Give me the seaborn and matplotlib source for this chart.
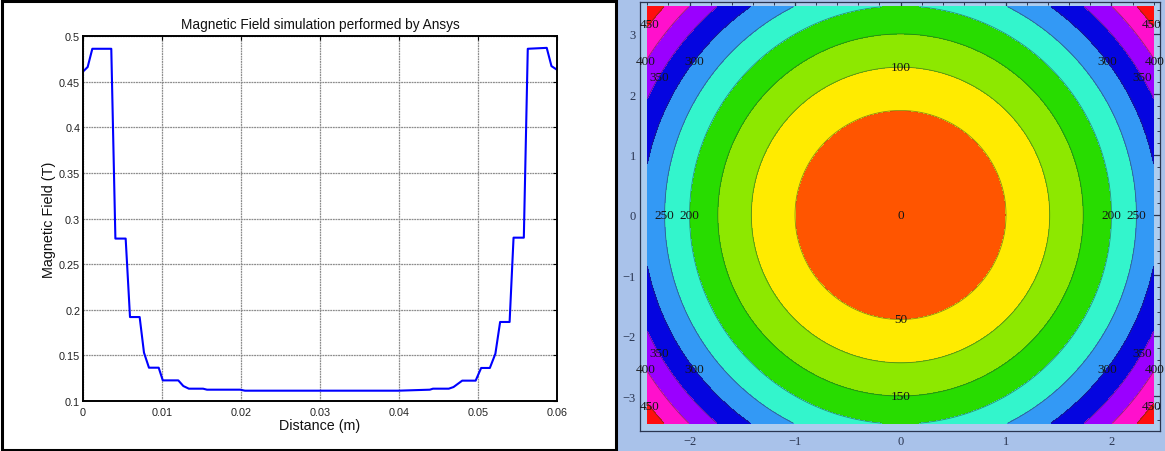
import numpy as np
import pandas as pd
import matplotlib
matplotlib.use("Agg")
import matplotlib.pyplot as plt
from matplotlib.patches import Rectangle
import seaborn as sns

# ---------------- data: left panel (Ansys line) ----------------
distance_m = [0.0, 0.00059, 0.00118, 0.00358, 0.0041, 0.0054, 0.00595, 0.00717,
              0.00772, 0.00835, 0.00958, 0.0101, 0.01206, 0.0127, 0.0134, 0.0152,
              0.0157, 0.0199, 0.0205, 0.0399, 0.0439, 0.0443, 0.0463, 0.0469,
              0.048, 0.0497, 0.0504, 0.0515, 0.0522, 0.0528, 0.054, 0.0545,
              0.0558, 0.0563, 0.0587, 0.0593, 0.06]
field_T = [0.461, 0.466, 0.486, 0.486, 0.278, 0.278, 0.192, 0.192,
           0.153, 0.1365, 0.1365, 0.1226, 0.1226, 0.1164, 0.1135, 0.1135,
           0.1124, 0.1124, 0.1113, 0.1113, 0.1124, 0.1135, 0.1135, 0.1153,
           0.1223, 0.1223, 0.1362, 0.1362, 0.1518, 0.1866, 0.1866, 0.279,
           0.279, 0.486, 0.487, 0.467, 0.463]
line_x_ticks = [0, 0.01, 0.02, 0.03, 0.04, 0.05, 0.06]
line_x_labels = ["0", "0.01", "0.02", "0.03", "0.04", "0.05", "0.06"]
line_y_ticks = [0.1, 0.15, 0.2, 0.25, 0.3, 0.35, 0.4, 0.45, 0.5]
line_y_labels = ["0.1", "0.15", "0.2", "0.25", "0.3", "0.35", "0.4", "0.45", "0.5"]
title_text = "Magnetic Field simulation performed by Ansys"
xlabel_text = "Distance (m)"
ylabel_text = "Magnetic Field (T)"

# ---------------- data: right panel (contour map) ----------------
coef_x = 50.0
coef_y = 50.0 / 3.0
map_x_range = [-2.4, 2.4]
map_y_range = [-3.45, 3.45]
contour_levels = [0, 50, 100, 150, 200, 250, 300, 350, 400, 450, 500]
band_colors = ["#FF5500", "#FFEB00", "#8DE800", "#28DC00", "#33F5CC",
               "#3399F5", "#0505E0", "#9A00FF", "#FF10CC", "#FF0E0E"]
map_x_ticks = [-2, -1, 0, 1, 2]
map_y_ticks = [-3, -2, -1, 0, 1, 2, 3]
label_levels = [0, 50, 100, 150, 200, 200, 250, 250,
                300, 300, 300, 300, 350, 350, 350, 350,
                400, 400, 400, 400, 450, 450, 450, 450]
label_angles = [0, 270, 90, 270, 180, 0, 180, 0,
                143, 37, 217, 323, 150, 30, 210, 330,
                148.6, 31.4, 211.4, 328.6, 142.5, 37.5, 217.5, 322.5]

# ---------------- figure ----------------
sns.set_theme(style="white")
plt.rcParams["font.family"] = ["Liberation Sans", "DejaVu Sans"]
SERIF = ["Liberation Serif", "DejaVu Serif"]

W, H = 1165, 452
fig = plt.figure(figsize=(W / 100, H / 100), dpi=100)
fig.patch.set_facecolor("white")

# right panel background
fig.patches.append(Rectangle((617 / W, 0), 1 - 617 / W, 1, transform=fig.transFigure,
                             facecolor="#A9C2EA", edgecolor="none", zorder=-5))
# left panel frame
fig.patches.append(Rectangle((2 / W, 1.5 / H), (615.5 - 2) / W, (450.5 - 1.5) / H,
                             transform=fig.transFigure, fill=False,
                             edgecolor="black", linewidth=2.2, zorder=5))

# ---- left axes ----
ax1 = fig.add_axes([83 / W, 50 / H, 474 / W, 365 / H])
df = pd.DataFrame({"distance": distance_m, "field": field_T})
sns.lineplot(data=df, x="distance", y="field", ax=ax1, color="#0000FF",
             linewidth=1.5, estimator=None, sort=False)
ax1.set_xlim(0, 0.06)
ax1.set_ylim(0.1, 0.5)
ax1.set_xticks(line_x_ticks)
ax1.set_xticklabels(line_x_labels)
ax1.set_yticks(line_y_ticks)
ax1.set_yticklabels(line_y_labels)
ax1.grid(True, color="#8c8c8c", linestyle=(0, (1.5, 0.6)), linewidth=0.9)
ax1.set_axisbelow(True)
for s in ax1.spines.values():
    s.set_visible(True)
    s.set_color("black")
    s.set_linewidth(1.4)
ax1.tick_params(axis="x", direction="in", length=3, width=0.8, top=True,
                labelsize=7.8, colors="black", pad=4)
ax1.tick_params(axis="y", direction="in", length=3, width=0.8, right=True,
                labelsize=7.8, colors="black", pad=2)
for lab in ax1.get_xticklabels() + ax1.get_yticklabels():
    lab.set_color("#222222")
ax1.set_title(title_text, fontsize=9.8, pad=6, color="#111111")
ax1.set_xlabel(xlabel_text, fontsize=10.3, labelpad=1, color="#111111")
ax1.set_ylabel(ylabel_text, fontsize=10.4, labelpad=2, color="#111111")

# ---- right axes ----
ax2 = fig.add_axes([640 / W, 20 / H, 520 / W, 429 / H])
ax2.set_facecolor("#AECDEF")
gx = np.linspace(map_x_range[0], map_x_range[1], 500)
gy = np.linspace(map_y_range[0], map_y_range[1], 500)
X, Y = np.meshgrid(gx, gy)
Z = coef_x * X ** 2 + coef_y * Y ** 2
ax2.contourf(X, Y, Z, levels=contour_levels, colors=band_colors)
ax2.contour(X, Y, Z, levels=contour_levels[1:-1], colors="#2a3a2a",
            linewidths=0.6, alpha=0.55)
for lev, ang in zip(label_levels, label_angles):
    t = np.deg2rad(ang)
    px = np.sqrt(lev / coef_x) * np.cos(t)
    py = np.sqrt(lev / coef_y) * np.sin(t)
    ax2.text(px, py, str(lev), ha="center", va="center", fontsize=9.5,
             family=SERIF, color="#151515")
ax2.set_xlim(-2.47, 2.46)
ax2.set_ylim(-3.58, 3.53)
ax2.set_xticks(map_x_ticks)
ax2.set_yticks(map_y_ticks)
ax2.set_xticklabels(["\u2212" + str(abs(v)) if v < 0 else str(v) for v in map_x_ticks],
                    family=SERIF)
ax2.set_yticklabels(["\u2212" + str(abs(v)) if v < 0 else str(v) for v in map_y_ticks],
                    family=SERIF)
ax2.set_xticks(np.arange(-2.4, 2.41, 0.2), minor=True)
ax2.set_yticks(np.arange(-3.4, 3.41, 0.2), minor=True)
ax2.tick_params(which="major", direction="in", length=5, width=0.9, top=True,
                right=True, labelsize=9, colors="#2a3550", pad=3)
ax2.tick_params(which="minor", direction="in", length=2.5, width=0.7, top=True,
                right=True, colors="#2a3550")
for s in ax2.spines.values():
    s.set_visible(True)
    s.set_color("#2a3550")
    s.set_linewidth(0.9)

fig.savefig("out.png", dpi=100, facecolor=fig.get_facecolor())
